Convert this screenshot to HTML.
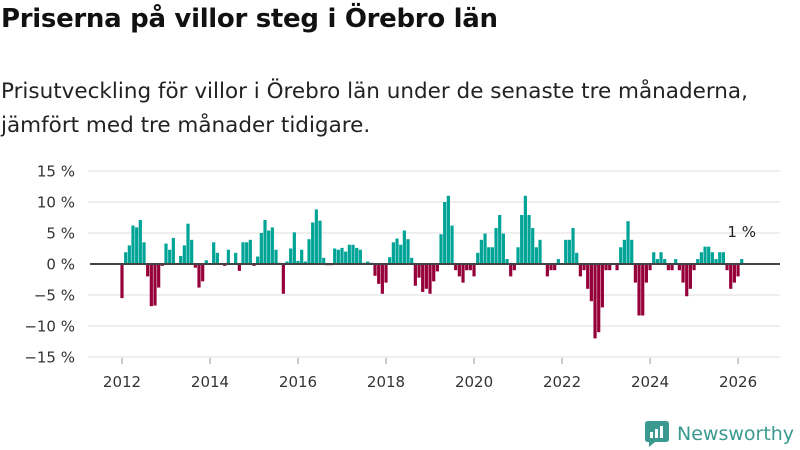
<!DOCTYPE html>
<html><head><meta charset="utf-8"><style>
body{margin:0;background:#fff;font-family:"DejaVu Sans",sans-serif;}
#wrap{position:relative;width:800px;height:450px;overflow:hidden;}
h1{position:absolute;left:1px;top:4px;margin:0;font-size:26px;font-weight:bold;color:#111;letter-spacing:-0.3px;}
p{position:absolute;left:1px;top:75px;margin:0;font-size:21.5px;line-height:34px;color:#222;}
</style></head><body><div id="wrap">
<h1>Priserna på villor steg i Örebro län</h1>
<p>Prisutveckling för villor i Örebro län under de senaste tre månaderna,<br>jämfört med tre månader tidigare.</p>
<svg id="chart" width="800" height="450" style="position:absolute;left:0;top:0"></svg>
<div style="position:absolute;left:645px;top:421px;display:flex;align-items:center">
<svg width="24" height="26"><path d="M0 3 Q0 0 3 0 H21 Q24 0 24 3 V18 Q24 21 21 21 H10 L4 26 V21 H3 Q0 21 0 18Z" fill="#3a9a8f"/><rect x="5" y="11" width="3" height="6" fill="#fff"/><rect x="10" y="8" width="3" height="9" fill="#fff"/><rect x="15" y="5" width="3" height="12" fill="#fff"/></svg>
<span style="margin-left:8px;font-size:19px;color:#3a9a8f">Newsworthy</span></div>
</div>
<script>
const startYear = 2012;
const values = [
-5.5,1.9,3.0,6.2,5.9,7.1,3.5,-2.0,-6.8,-6.7,-3.8,-0.3,
3.3,2.3,4.2,0,1.3,3.0,6.5,3.9,-0.6,-3.8,-2.8,0.6,
0,3.5,1.8,0,-0.3,2.3,0,1.8,-1.1,3.5,3.5,3.9,
-0.3,1.2,5.0,7.1,5.4,5.9,2.3,0.2,-4.8,0.4,2.5,5.1,
0.5,2.3,0.4,4.0,6.7,8.8,7.0,1.0,-0.2,-0.2,2.5,2.3,
2.6,2.0,3.1,3.1,2.6,2.3,0.2,0.4,0.2,-1.9,-3.2,-4.8,
-3.0,1.1,3.5,4.1,3.1,5.4,4.0,1.0,-3.5,-2.2,-4.5,-4.0,
-4.8,-2.8,-1.2,4.8,10.0,11.0,6.2,-1.0,-2.0,-3.0,-1.0,-1.0,
-2.0,1.8,3.9,4.9,2.7,2.7,5.8,7.9,4.9,0.8,-2.0,-1.0,
2.7,7.9,11.0,7.9,5.8,2.7,3.9,0,-2.0,-1.0,-1.0,0.8,
0,3.9,3.9,5.8,1.8,-2.0,-1.0,-4.0,-6.0,-12.0,-11.0,-7.0,
-1.0,-1.0,0,-1.0,2.7,3.9,6.9,3.9,-3.0,-8.3,-8.3,-3.0,
-1.0,1.9,0.8,1.9,0.8,-1.0,-1.0,0.8,-1.0,-3.0,-5.2,-4.0,
-1.0,0.8,1.9,2.8,2.8,1.9,0.8,1.9,1.9,-1.0,-4.0,-3.0,
-2.0,0.8];
const yTicks = [15,10,5,0,-5,-10,-15];
const yTickLabels = ["15 %","10 %","5 %","0 %","\u22125 %","\u221210 %","\u221215 %"];
const xTicks = [2012,2014,2016,2018,2020,2022,2024,2026];
const lastLabel = "1 %";

const svg = document.getElementById('chart');
const NS = 'http://www.w3.org/2000/svg';
const FF = 'DejaVu Sans, sans-serif';
const x = m => 122 + m * 3.667;
const xYear = yr => x((yr - startYear) * 12);
const y = v => 264 - v * 6.2;
function mk(t, a){const e=document.createElementNS(NS,t);for(const k in a)e.setAttribute(k,a[k]);svg.appendChild(e);return e;}

yTicks.forEach((v,i)=>{
  if(v!==0){const g=mk('line',{x1:88,x2:780,y1:y(v),y2:y(v),stroke:'#e3e3e3','stroke-width':1.3});
  
  }
  const t=mk('text',{x:75,y:y(v)+5.5,'text-anchor':'end','font-size':15,fill:'#333','font-family':FF});
  t.textContent=yTickLabels[i];
  
  
});
xTicks.forEach(yr=>{
  const t=mk('text',{x:xYear(yr),y:387,'text-anchor':'middle','font-size':15,fill:'#333','font-family':FF});
  t.textContent=yr;
  
  
  const l=mk('line',{x1:xYear(yr),x2:xYear(yr),y1:358,y2:364,stroke:'#999'});
  
  
});
values.forEach((v,i)=>{
  const top=Math.min(y(v),y(0)),h=Math.abs(y(v)-y(0));
  const r=mk('rect',{x:x(i)-1.6,y:top,width:3.2,height:Math.max(h,0.01),fill:v>=0?'#00a497':'#96003a'});
  
  
});
const z=mk('line',{x1:90,x2:780,y1:y(0),y2:y(0),stroke:'#444','stroke-width':2});


const li=values.length-1;
const lab=mk('text',{x:x(li),y:y(values[li])-22,'text-anchor':'middle','font-size':15,fill:'#222','font-family':FF});
lab.textContent=lastLabel;


</script>
</body></html>
